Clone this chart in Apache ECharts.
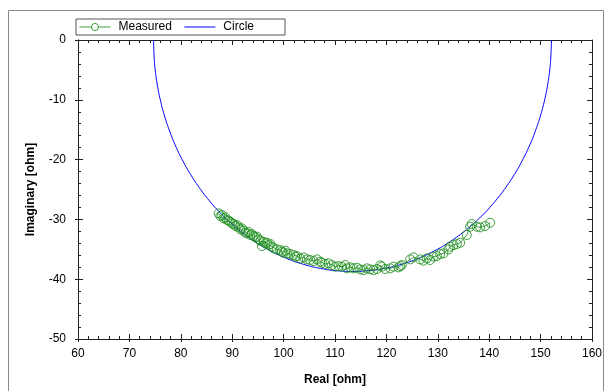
<!DOCTYPE html>
<html>
<head>
<meta charset="utf-8">
<script src="https://cdn.jsdelivr.net/npm/echarts@6/dist/echarts.min.js"></script>
<style>html,body{margin:0;padding:0;background:#fff}#c{width:610px;height:391px}</style>
</head>
<body>
<div id="c"></div>
<script>
// Measured impedance points (Real, Imaginary) in ohm
var measuredReal = [87.37,87.70,88.02,88.35,88.67,88.99,89.32,89.64,89.97,90.29,90.61,90.94,91.26,91.59,91.91,92.23,92.56,92.88,93.20,93.53,93.85,94.18,94.50,94.82,95.15,95.47,95.80,96.12,96.44,96.77,97.09,97.42,97.74,98.06,98.71,99.36,99.68,100.01,100.33,100.66,101.30,101.95,102.28,102.60,103.25,103.89,104.54,105.19,105.84,106.49,107.13,107.46,108.11,108.75,109.40,110.05,110.70,111.35,111.99,112.32,112.97,113.61,114.26,114.91,115.56,116.20,116.85,117.50,118.15,118.80,119.12,119.77,120.74,121.39,122.36,122.68,123.01,124.63,125.27,126.57,127.22,127.87,128.51,129.16,129.81,130.46,131.11,132.08,132.40,133.05,133.70,134.35,135.64,136.29,136.61,137.58,138.23,139.20,140.18];
var measuredImag = [-28.99,-29.44,-29.27,-29.83,-29.66,-30.10,-30.22,-30.38,-30.66,-30.77,-31.11,-30.94,-31.33,-31.67,-31.50,-31.89,-32.22,-32.33,-32.11,-32.61,-32.45,-32.78,-33.00,-32.89,-33.34,-33.56,-34.45,-33.73,-34.01,-33.90,-34.29,-34.12,-34.56,-34.84,-35.01,-35.12,-35.40,-35.57,-35.23,-35.68,-35.79,-35.96,-36.24,-36.13,-36.52,-36.35,-36.68,-36.79,-36.96,-36.68,-37.07,-37.24,-37.46,-37.35,-37.63,-37.91,-37.80,-37.91,-37.63,-38.19,-38.02,-38.19,-38.08,-38.35,-38.47,-38.19,-38.35,-38.47,-38.30,-37.69,-37.91,-38.30,-38.19,-37.91,-38.02,-37.80,-37.63,-36.68,-36.35,-36.68,-36.91,-36.52,-36.79,-36.24,-36.13,-35.79,-35.68,-35.01,-34.56,-34.29,-34.12,-33.90,-32.61,-31.22,-30.77,-31.22,-31.33,-31.11,-30.55];

// Fitted circle curve, points read along the drawn arc
var circleReal = [74.70,74.82,75.02,75.43,76.01,76.77,77.73,78.88,80.27,81.91,83.86,85.20,86.68,88.35,90.23,91.64,93.18,94.91,96.89,100.54,103.83,107.20,110.62,113.40,116.18,119.60,122.97,126.26,129.91,131.89,133.62,135.16,136.57,138.45,140.12,141.60,142.94,144.89,146.53,147.92,149.07,150.03,150.79,151.37,151.78,151.98,152.10];
var circleImag = [0,-3,-5,-7.5,-10,-12.5,-15,-17.5,-20,-22.5,-25,-26.5,-28,-29.5,-31,-32,-33,-34,-35,-36.5,-37.5,-38.2,-38.6,-38.7,-38.6,-38.2,-37.5,-36.5,-35,-34,-33,-32,-31,-29.5,-28,-26.5,-25,-22.5,-20,-17.5,-15,-12.5,-10,-7.5,-5,-3,0];

var xTicks = {min: 60, max: 160, interval: 10};
var yTicks = {min: -50, max: 0, interval: 10};
var seriesNames = ['Measured', 'Circle'];

function zip(a, b) { return a.map(function (v, i) { return [v, b[i]]; }); }

var FONT = '"Liberation Sans", Arial, sans-serif';
var AX = '#222';
var GREEN = '#1f8f1f';

function hiddenAxis(pos, inside, len, minor, extent) {
  return {
    type: 'value', position: pos, min: extent.min, max: extent.max, interval: extent.interval,
    axisLine: {show: true, onZero: false, lineStyle: {color: AX, width: 1}},
    axisTick: {show: true, inside: inside, length: len, lineStyle: {color: AX}},
    minorTick: {show: minor, splitNumber: 5, length: 3, lineStyle: {color: AX}},
    axisLabel: {show: false}, splitLine: {show: false}
  };
}

var chart = echarts.init(document.getElementById('c'), null, {renderer: 'canvas'});
chart.setOption({
  backgroundColor: '#fff',
  animation: false,
  graphic: [{
    type: 'rect', shape: {x: 8.5, y: 10.5, width: 595, height: 400},
    style: {fill: 'none', stroke: '#888', lineWidth: 1}, z: -1
  }],
  grid: {left: 78, right: 18, top: 40, bottom: 52},
  legend: {
    left: 76, top: 19, orient: 'horizontal',
    backgroundColor: '#fff', borderColor: '#555', borderWidth: 1, borderRadius: 0,
    padding: [2, 31, 2, 3], itemWidth: 31, itemHeight: 9, itemGap: 12,
    textStyle: {fontFamily: FONT, fontSize: 12, color: '#000', padding: [0, 0, 0, 3]},
    data: [
      {name: seriesNames[0], itemStyle: {color: '#fff', borderColor: GREEN, borderWidth: 1}, lineStyle: {width: 1}},
      {name: seriesNames[1], itemStyle: {opacity: 0}, lineStyle: {width: 1}}
    ]
  },
  xAxis: [
    {
      type: 'value', position: 'bottom', min: xTicks.min, max: xTicks.max, interval: xTicks.interval,
      name: 'Real [ohm]', nameLocation: 'middle', nameGap: 35,
      nameTextStyle: {fontFamily: FONT, fontSize: 12, fontWeight: 'bold', color: '#000'},
      axisLine: {show: true, onZero: false, lineStyle: {color: AX}},
      axisTick: {show: true, inside: true, length: 5, lineStyle: {color: AX}},
      minorTick: {show: true, splitNumber: 5, length: 3, lineStyle: {color: AX}},
      axisLabel: {fontFamily: FONT, fontSize: 12, color: '#000', margin: 9},
      splitLine: {show: false}
    },
    hiddenAxis('top', true, 5, true, xTicks),
    hiddenAxis('bottom', false, 3, false, xTicks)
  ],
  yAxis: [
    {
      type: 'value', position: 'left', min: yTicks.min, max: yTicks.max, interval: yTicks.interval,
      name: 'Imaginary [ohm]', nameLocation: 'middle', nameGap: 41, nameRotate: 90,
      nameTextStyle: {fontFamily: FONT, fontSize: 12, fontWeight: 'bold', color: '#000'},
      axisLine: {show: true, onZero: false, lineStyle: {color: AX}},
      axisTick: {show: true, inside: true, length: 5, lineStyle: {color: AX}},
      minorTick: {show: true, splitNumber: 5, length: 3, lineStyle: {color: AX}},
      axisLabel: {fontFamily: FONT, fontSize: 12, color: '#000', margin: 12},
      splitLine: {show: false}
    },
    hiddenAxis('right', true, 5, true, yTicks),
    hiddenAxis('left', false, 3, false, yTicks)
  ],
  series: [
    {
      name: seriesNames[0], type: 'line', xAxisIndex: 0, yAxisIndex: 0,
      data: zip(measuredReal, measuredImag),
      symbol: 'circle', symbolSize: 9, showAllSymbol: true,
      itemStyle: {color: 'rgba(255,255,255,0)', borderColor: GREEN, borderWidth: 1, opacity: 0.85},
      lineStyle: {color: GREEN, width: 1, opacity: 0.85},
      z: 3
    },
    {
      name: seriesNames[1], type: 'line', xAxisIndex: 0, yAxisIndex: 0,
      data: zip(circleReal, circleImag),
      symbol: 'none', smooth: 0.5,
      itemStyle: {color: '#0000ff'},
      lineStyle: {color: '#0000ff', width: 1},
      z: 2
    }
  ]
});
</script>
</body>
</html>
